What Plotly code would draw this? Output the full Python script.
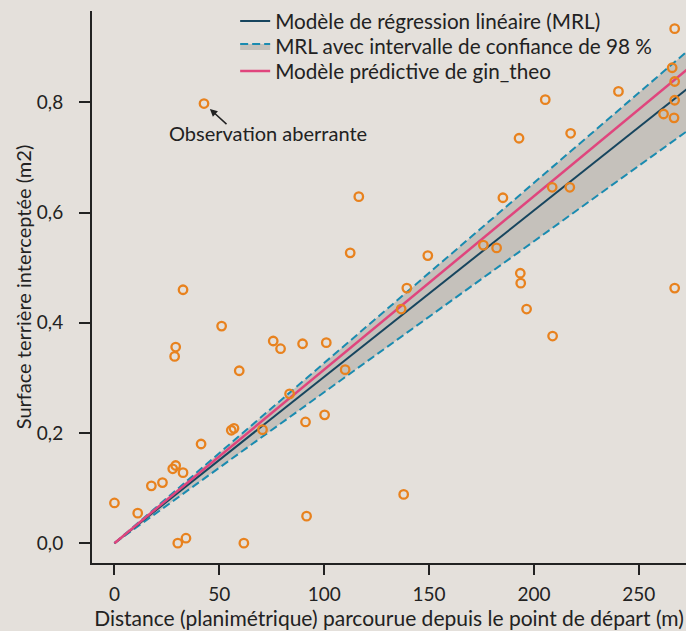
import plotly.graph_objects as go

# Observations (distance m, surface m2)
dist = [0, 11.1, 17.6, 22.9, 27.8, 29.2, 32.7, 30.2, 34.1, 61.7, 41.3, 29.2, 28.7,
        51.1, 59.5, 55.7, 57.0, 70.6, 75.7, 79.2, 83.5, 89.7, 101.0, 91.1, 100.2,
        91.6, 110.0, 42.7, 116.5, 112.4, 32.7, 267.1, 265.9, 267.1, 267.1, 261.8,
        266.8, 240.3, 205.4, 192.9, 217.5, 208.7, 217.1, 185.2, 175.9, 182.2,
        149.4, 193.5, 193.7, 139.4, 267.1, 136.7, 196.5, 208.9, 137.9]
surface = [0.073, 0.0545, 0.104, 0.11, 0.135, 0.141, 0.128, 0.0, 0.009, 0.0, 0.18,
           0.356, 0.339, 0.394, 0.313, 0.205, 0.2085, 0.206, 0.367, 0.353, 0.271,
           0.362, 0.364, 0.22, 0.233, 0.049, 0.315, 0.798, 0.629, 0.527, 0.46,
           0.934, 0.863, 0.838, 0.804, 0.779, 0.772, 0.82, 0.805, 0.735, 0.744,
           0.646, 0.646, 0.627, 0.541, 0.536, 0.522, 0.49, 0.472, 0.463, 0.463,
           0.425, 0.425, 0.376, 0.0885]

# Model slopes (through origin)
slope_mrl = 0.00302
slope_upper = 0.00327
slope_lower = 0.00274
slope_theo = 0.00315
line_x = [0, 280]

x_ticks = [0, 50, 100, 150, 200, 250]
y_ticks = [0.0, 0.2, 0.4, 0.6, 0.8]

BG = "#e4e0db"
FONT = "Lato"
TXT = "#222222"
DASH = "#1a8bb0"

def f(size):
    return dict(family=FONT, size=size, color=TXT)

fig = go.Figure()
upper = [slope_upper * v for v in line_x]
lower = [slope_lower * v for v in line_x]
mrl = [slope_mrl * v for v in line_x]
theo = [slope_theo * v for v in line_x]

fig.add_trace(go.Scatter(x=line_x, y=lower, mode="lines",
                         line=dict(color=DASH, width=2, dash="8px,4px"),
                         showlegend=False, hoverinfo="skip"))
fig.add_trace(go.Scatter(x=line_x, y=upper, mode="lines", fill="tonexty",
                         fillcolor="#c5c1bb",
                         line=dict(color=DASH, width=2, dash="8px,4px"),
                         name="MRL avec intervalle de confiance de 98 %", legend="legend2"))
fig.add_trace(go.Scatter(x=line_x, y=mrl, mode="lines",
                         line=dict(color="#17455e", width=2),
                         name="Modèle de régression linéaire (MRL)", legend="legend"))
fig.add_trace(go.Scatter(x=line_x, y=theo, mode="lines",
                         line=dict(color="#e0457d", width=2.5),
                         name="Modèle prédictive de gin_theo", legend="legend3"))
fig.add_trace(go.Scatter(x=dist, y=surface, mode="markers", cliponaxis=False,
                         marker=dict(symbol="circle-open", size=8.5,
                                     color="#e8821e", line=dict(width=2.3, color="#e8821e")),
                         showlegend=False))

fig.add_annotation(x=42.7, y=0.798, ax=24, ay=22, axref="pixel", ayref="pixel",
                   text="", showarrow=True, arrowhead=2, arrowsize=1, arrowwidth=1.5,
                   arrowcolor=TXT, standoff=8)
fig.add_annotation(x=73, y=0.744, text="Observation aberrante", showarrow=False,
                   font=f(20))

def leg(ypix):
    # ypix: vertical centre of the entry in page pixels
    return dict(x=0.241, y=1 + (11 - ypix) / 551.5, xanchor="left", yanchor="middle",
                bgcolor="rgba(0,0,0,0)", font=f(20.7))

fig.update_layout(
    width=686, height=631,
    paper_bgcolor=BG, plot_bgcolor=BG,
    margin=dict(l=92, r=0, t=11, b=68),
    separators=", ",
    font=f(18),
    legend=leg(21),
    legend2=leg(46),
    legend3=leg(71),
    showlegend=True,
)
fig.update_xaxes(range=[-10.7, 272.5], tickvals=x_ticks, showgrid=False, zeroline=False,
                 automargin=False,
                 showline=True, linecolor=TXT, linewidth=2, ticks="outside", ticklen=10,
                 tickcolor=TXT, tickwidth=2, tickfont=f(19), ticklabelstandoff=3,
                 title=dict(text="Distance (planimétrique) parcourue depuis le point de départ (m)",
                            standoff=4, font=f(21)))
fig.update_yaxes(range=[-0.036, 0.966], tickvals=y_ticks, tickformat=".1f", showgrid=False,
                 automargin=False,
                 zeroline=False, showline=True, linecolor=TXT, linewidth=2, ticks="outside",
                 ticklen=11, tickcolor=TXT, tickwidth=2, tickfont=f(19), ticklabelstandoff=12,
                 title=dict(text="Surface terrière interceptée (m2)", standoff=0,
                            font=f(20)))

fig.write_html("out.html", config={"displayModeBar": False},
               post_script="document.body.style.margin='0';"
                           "document.body.style.background='#e4e0db';")
